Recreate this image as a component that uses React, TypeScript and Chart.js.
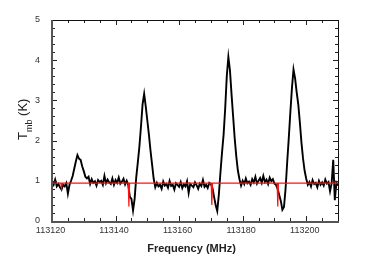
import React, { useEffect, useRef } from "react";
import { Chart, registerables } from "chart.js";

Chart.register(...registerables);

// Spectrometer channel grid (MHz)
const CHANNEL_START = 113120;
const CHANNEL_WIDTH = 0.5;

// Observed main-beam temperature (K), one value per channel from 113120 MHz
const tmbObserved: number[] = [
  // 113120 - 113125.5
  0.97, 0.9, 1.03, 0.86, 0.92, 0.84, 0.78, 0.9, 0.86, 0.94, 0.68, 0.9,
  // 113126 - 113131.5
  1.0, 1.12, 1.3, 1.48, 1.64, 1.55, 1.52, 1.36, 1.24, 1.1, 1.06, 1.1,
  // 113132 - 113143.5
  0.92, 1.04, 0.95, 0.99, 0.88, 1.02, 0.97, 1.0, 0.9, 1.12, 0.94, 1.03,
  0.96, 0.92, 1.06, 0.9, 1.02, 0.95, 1.08, 0.93, 0.98, 1.05, 0.91, 1.0,
  // 113144 - 113152
  0.9, 0.6, 0.55, 0.26, 0.55, 1.08, 1.45, 1.85, 2.35, 2.9, 3.16, 2.85,
  2.5, 2.15, 1.75, 1.4, 1.05,
  // 113152.5 - 113169.5
  0.84, 0.95, 0.86, 0.9, 0.8, 0.98, 0.88, 0.92, 0.83, 1.0, 0.87, 0.9,
  0.78, 0.94, 0.9, 0.85, 0.97, 0.82, 0.91, 0.86, 0.99, 0.7, 0.92, 0.88,
  0.84, 0.96, 0.89, 0.8, 0.93, 0.87, 1.02, 0.85, 0.9, 0.82, 0.95,
  // 113170 - 113179
  0.92, 0.82, 0.6, 0.4, 0.25, 0.65, 1.2, 1.7, 2.15, 2.8, 3.6, 4.08,
  3.75, 3.15, 2.6, 2.05, 1.6, 1.25, 1.04,
  // 113179.5 - 113190
  0.88, 1.0, 0.92, 1.06, 0.94, 0.98, 0.9, 1.04, 0.96, 1.1, 0.93, 1.0,
  1.07, 0.95, 1.12, 0.97, 1.03, 0.92, 1.08, 0.99, 1.04, 0.93,
  // 113190.5 - 113200
  0.9, 0.8, 0.65, 0.5, 0.28, 0.35, 0.8, 1.45, 2.05, 2.7, 3.3, 3.77,
  3.55, 3.2, 2.9, 2.45, 1.95, 1.55, 1.25, 1.05,
  // 113200.5 - 113210
  0.9, 0.97, 0.86, 1.02, 0.92, 0.95, 0.84, 1.0, 0.9, 0.96, 0.88, 1.03,
  0.93, 0.97, 0.74, 0.94, 1.52, 0.52, 0.95, 0.88,
];

// Model (red) curve
const modelFreqs: number[] = [
  113120, 113122.8, 113123.0, 113123.2, 113144.0, 113144.2, 113144.4,
  113170.1, 113170.3, 113170.5, 113190.85, 113191.05, 113191.25, 113210,
];
const modelTmb: number[] = [
  0.94, 0.94, 0.82, 0.94, 0.94, 0.36, 0.94,
  0.94, 0.4, 0.94, 0.94, 0.36, 0.94, 0.94,
];

const xTickValues = [113120, 113140, 113160, 113180, 113200];
const yTickValues = [0, 1, 2, 3, 4, 5];
const X_MIN = 113120;
const X_MAX = 113210;
const Y_MIN = 0;
const Y_MAX = 5;

const FONT = '"Liberation Sans", Arial, Helvetica, sans-serif';

const framePlugin = {
  id: "framePlugin",
  afterDraw(chart: any) {
    const { ctx, chartArea } = chart;
    const xs = chart.scales.x;
    const ys = chart.scales.y;
    const { left, right, top, bottom } = chartArea;
    ctx.save();
    // ticks
    ctx.strokeStyle = "#222";
    ctx.lineWidth = 1;
    ctx.beginPath();
    for (let v = X_MIN; v <= X_MAX + 1e-6; v += 5) {
      const px = Math.round(xs.getPixelForValue(v)) + 0.5;
      const len = v % 20 === 0 ? 5 : 3;
      ctx.moveTo(px, bottom);
      ctx.lineTo(px, bottom - len);
      ctx.moveTo(px, top);
      ctx.lineTo(px, top + len);
    }
    for (let k = 0; k <= 25; k++) {
      const v = k * 0.2;
      const py = Math.round(ys.getPixelForValue(v)) + 0.5;
      const len = k % 5 === 0 ? 5 : 3;
      ctx.moveTo(left, py);
      ctx.lineTo(left + len, py);
      ctx.moveTo(right, py);
      ctx.lineTo(right - len, py);
    }
    ctx.stroke();
    // frame
    ctx.strokeStyle = "#111";
    ctx.lineWidth = 1;
    ctx.strokeRect(Math.round(left) + 0.5, Math.round(top) + 0.5, Math.round(right - left), Math.round(bottom - top));
    ctx.strokeStyle = "#555";
    ctx.lineWidth = 2;
    ctx.beginPath();
    ctx.moveTo(Math.round(left), Math.round(top));
    ctx.lineTo(Math.round(left), Math.round(bottom) + 1);
    ctx.lineTo(Math.round(right) + 1, Math.round(bottom) + 1);
    ctx.stroke();

    // x title
    ctx.fillStyle = "#222";
    ctx.font = `bold 11px ${FONT}`;
    ctx.textAlign = "center";
    ctx.textBaseline = "middle";
    ctx.fillText("Frequency (MHz)", 191.5, 249);

    // y title (rotated, with subscript)
    ctx.translate(27, 140);
    ctx.rotate(-Math.PI / 2);
    ctx.textAlign = "left";
    ctx.textBaseline = "alphabetic";
    ctx.font = `13px ${FONT}`;
    ctx.fillText("T", 0, 0);
    let x = ctx.measureText("T").width;
    ctx.font = `9px ${FONT}`;
    ctx.fillText("mb", x, 5);
    x += ctx.measureText("mb").width;
    ctx.font = `13px ${FONT}`;
    ctx.fillText(" (K)", x, 0);
    ctx.restore();
  },
};

export default function App() {
  const canvasRef = useRef<HTMLCanvasElement | null>(null);

  useEffect(() => {
    const canvas = canvasRef.current;
    if (!canvas) return;
    const observed = tmbObserved.map((t, i) => ({ x: CHANNEL_START + i * CHANNEL_WIDTH, y: t }));
    const model = modelFreqs.map((f, i) => ({ x: f, y: modelTmb[i] }));
    const chart = new Chart(canvas, {
      type: "line",
      data: {
        datasets: [
          {
            data: model,
            borderColor: "#ff1010",
            borderWidth: 1.2,
            pointRadius: 0,
            tension: 0,
            order: 0,
          },
          {
            data: observed,
            borderColor: "#000",
            borderWidth: 1.9,
            pointRadius: 0,
            tension: 0,
            order: 1,
          },
        ],
      },
      options: {
        responsive: false,
        animation: false,
        devicePixelRatio: 1,
        layout: { padding: { top: 20, right: 36, left: 0, bottom: 0 } },
        plugins: { legend: { display: false }, tooltip: { enabled: false } },
        scales: {
          x: {
            type: "linear",
            min: X_MIN,
            max: X_MAX,
            grid: { display: false, drawTicks: false, tickLength: 0 },
            border: { display: false },
            afterBuildTicks: (scale: any) => {
              scale.ticks = xTickValues.map((v) => ({ value: v }));
            },
            afterFit: (scale: any) => {
              scale.height = 43;
            },
            ticks: {
              autoSkip: false,
              maxRotation: 0,
              padding: 4,
              labelOffset: -1.5,
              color: "#333",
              font: { family: FONT, size: 9 },
              callback: (v: any) => String(v),
            },
          },
          y: {
            type: "linear",
            min: Y_MIN,
            max: Y_MAX,
            grid: { display: false, drawTicks: false, tickLength: 0 },
            border: { display: false },
            afterBuildTicks: (scale: any) => {
              scale.ticks = yTickValues.map((v) => ({ value: v }));
            },
            afterFit: (scale: any) => {
              scale.width = 52;
            },
            ticks: {
              padding: 12,
              color: "#333",
              font: { family: FONT, size: 9 },
              callback: (v: any) => String(v),
            },
          },
        },
      },
      plugins: [framePlugin],
    });
    return () => chart.destroy();
  }, []);

  return (
    <div style={{ position: "absolute", left: 0, top: 0, width: 374, height: 264, background: "#fff" }}>
      <canvas ref={canvasRef} width={374} height={264} />
    </div>
  );
}
